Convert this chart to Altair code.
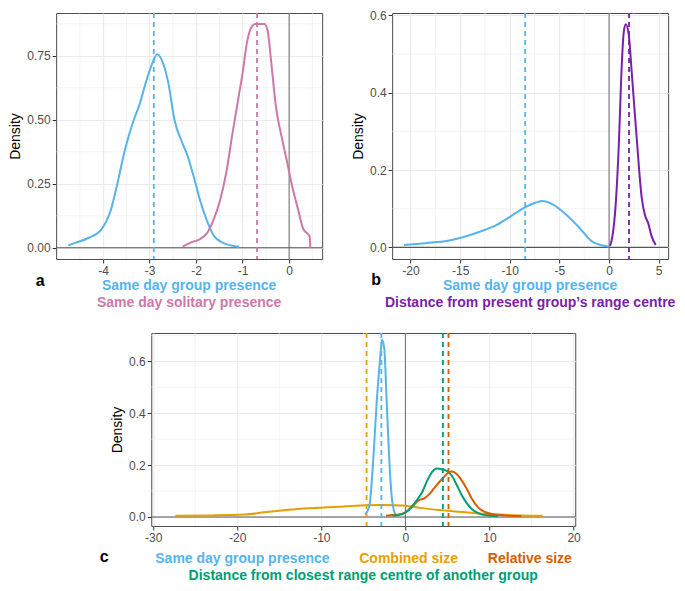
import altair as alt
import pandas as pd

FONT = "Liberation Sans"
BLUE = "#56B4E9"
PINK = "#CC79A7"
PURPLE = "#7A1FA8"
ORANGE = "#E69F00"
VERMIL = "#D55E00"
GREEN = "#009E73"
GRID = "#EBEBEB"

# ---------------- panel a ----------------
a_names = ["Same day group presence", "Same day solitary presence"]
a_colors = [BLUE, PINK]
a_blue_x = [-4.75, -4.60, -4.32, -4.05, -3.94, -3.84, -3.70, -3.53, -3.36, -3.22, -3.08, -2.94,
            -2.84, -2.74, -2.60, -2.46, -2.32, -2.18, -2.04, -1.91, -1.77, -1.63, -1.42, -1.08]
a_blue_y = [0.009, 0.019, 0.038, 0.069, 0.10, 0.144, 0.245, 0.383, 0.489, 0.558, 0.646, 0.721,
            0.756, 0.734, 0.646, 0.495, 0.42, 0.357, 0.27, 0.182, 0.107, 0.05, 0.019, 0.004]
a_pink_x = [-2.29, -2.11, -1.91, -1.77, -1.63, -1.49, -1.35, -1.22, -1.08, -1.01, -0.905, -0.80,
            -0.73, -0.53, -0.46, -0.39, -0.28, -0.145, -0.04, 0.06, 0.20, 0.30, 0.44, 0.456]
a_pink_y = [0.004, 0.021, 0.034, 0.056, 0.107, 0.182, 0.295, 0.445, 0.596, 0.671, 0.803, 0.865,
            0.874, 0.874, 0.847, 0.734, 0.546, 0.42, 0.332, 0.245, 0.144, 0.075, 0.044, 0.0]
a_means = [-2.91, -0.69]
a_xticks = [-4, -3, -2, -1, 0]
a_xminor = [-4.5, -3.5, -2.5, -1.5, -0.5, 0.5]
a_yticks = [0, 0.25, 0.5, 0.75]
a_yminor = [0.125, 0.375, 0.625, 0.875]

# ---------------- panel b ----------------
b_names = ["Same day group presence", "Distance from present group\u2019s range centre"]
b_colors = [BLUE, PURPLE]
b_blue_x = [-20.66, -18.52, -16.22, -14.91, -12.95, -11.31, -9.99, -8.52, -7.37, -6.72, -5.73,
            -4.42, -3.11, -1.79, -0.48, 0.0]
b_blue_y = [0.006, 0.011, 0.017, 0.025, 0.041, 0.058, 0.079, 0.103, 0.116, 0.120, 0.112,
            0.087, 0.054, 0.017, 0.004, 0.002]
b_purple_x = [0.1, 0.34, 0.67, 1.0, 1.23, 1.49, 1.69, 1.98, 2.31, 2.80, 3.29, 3.62, 3.95, 4.28, 4.70]
b_purple_y = [0.004, 0.029, 0.112, 0.277, 0.443, 0.559, 0.577, 0.550, 0.443, 0.277, 0.128, 0.083,
              0.062, 0.029, 0.006]
b_means = [-8.45, 2.01]
b_xticks = [-20, -15, -10, -5, 0, 5]
b_xminor = [-17.5, -12.5, -7.5, -2.5, 2.5]
b_yticks = [0, 0.2, 0.4, 0.6]
b_yminor = [0.1, 0.3, 0.5]

# ---------------- panel c ----------------
c_names = ["Combined size", "Same day group presence", "Relative size",
           "Distance from closest range centre of another group"]
c_colors = [ORANGE, BLUE, VERMIL, GREEN]
c_orange_x = [-27.37, -23.06, -19.14, -16.78, -14.43, -12.08, -9.73, -7.37, -4.63, -2.67, -0.35,
              2.0, 5.92, 9.84, 13.8, 16.3]
c_orange_y = [0.005, 0.006, 0.009, 0.018, 0.026, 0.033, 0.036, 0.040, 0.045, 0.046, 0.044,
              0.034, 0.021, 0.011, 0.006, 0.005]
c_blue_x = [-4.78, -4.27, -3.80, -3.41, -3.01, -2.78, -2.51, -2.23, -1.92, -1.61, -1.21]
c_blue_y = [0.009, 0.046, 0.234, 0.447, 0.61, 0.685, 0.648, 0.447, 0.222, 0.071, 0.009]
c_verm_x = [-2.31, -0.75, 0.04, 0.82, 1.61, 2.2, 2.78, 3.37, 3.96, 4.55, 5.14, 5.53, 6.12, 6.71,
            7.29, 7.88, 8.67, 9.45, 10.6, 12.2, 13.8]
c_verm_y = [0.005, 0.009, 0.019, 0.040, 0.065, 0.071, 0.086, 0.109, 0.132, 0.153, 0.172, 0.175,
            0.165, 0.14, 0.109, 0.071, 0.036, 0.019, 0.009, 0.005, 0.004]
c_green_x = [-1.53, -0.35, 0.43, 1.22, 2.0, 2.59, 3.18, 3.76, 4.35, 4.94, 5.53, 6.12, 6.71, 7.29,
             7.88, 8.67, 9.65, 11.0]
c_green_y = [0.005, 0.011, 0.028, 0.059, 0.096, 0.14, 0.174, 0.187, 0.184, 0.178, 0.159, 0.122,
             0.084, 0.053, 0.031, 0.015, 0.006, 0.003]
c_means = [-4.62, -2.86, 5.13, 4.46]
c_xticks = [-30, -20, -10, 0, 10, 20]
c_xminor = [-25, -15, -5, 5, 15]
c_yticks = [0, 0.2, 0.4, 0.6]
c_yminor = [0.1, 0.3, 0.5, 0.7]


def curves_df(names, xs_list, ys_list):
    frames = [pd.DataFrame({"s": n, "x": xs, "y": ys, "k": i})
              for i, (n, xs, ys) in enumerate(zip(names, xs_list, ys_list))]
    return pd.concat(frames, ignore_index=True)


def panel(names, colors, xs_list, ys_list, means, xdom, ydom, xticks, xminor, yticks, yminor,
          yfmt, w, h, letter, letter_pos, texts):
    xsc = alt.Scale(domain=xdom, nice=False, zero=False)
    ysc = alt.Scale(domain=ydom, nice=False, zero=False)
    xax = alt.Axis(values=xticks, title=None, format="d",
                   labelExpr="replace(datum.label, '\u2212', '-')")
    yax = alt.Axis(values=yticks, title="Density", format=yfmt)
    col = alt.Color("s:N", scale=alt.Scale(domain=names, range=colors), legend=None)

    def X(f):
        return alt.X(f, scale=xsc, axis=xax)

    def Y(f):
        return alt.Y(f, scale=ysc, axis=yax)

    layers = [
        alt.Chart(pd.DataFrame({"v": xminor})).mark_rule(color=GRID, strokeWidth=0.6).encode(x=X("v:Q")),
        alt.Chart(pd.DataFrame({"v": yminor})).mark_rule(color=GRID, strokeWidth=0.6).encode(y=Y("v:Q")),
        alt.Chart(pd.DataFrame({"v": [0]})).mark_rule(color="#777777", strokeWidth=1.1).encode(x=X("v:Q")),
        alt.Chart(pd.DataFrame({"v": [0]})).mark_rule(color="#555555", strokeWidth=1.1).encode(y=Y("v:Q")),
        alt.Chart(curves_df(names, xs_list, ys_list)).mark_line(
            strokeWidth=2, interpolate="monotone").encode(
            x=X("x:Q"), y=Y("y:Q"), color=col, detail="k:N"),
        alt.Chart(pd.DataFrame({"s": names, "m": means})).mark_rule(
            strokeWidth=1.8, strokeDash=[5, 4]).encode(x=X("m:Q"), color=col),
        alt.Chart(pd.DataFrame({"t": [letter]})).mark_text(
            font=FONT, fontSize=16, fontWeight="bold", color="black", align="center",
            baseline="middle").encode(
            x=alt.value(letter_pos[0]), y=alt.value(h + letter_pos[1]), text="t:N"),
    ]
    for (txt, color, fx, dy) in texts:
        layers.append(
            alt.Chart(pd.DataFrame({"t": [txt]})).mark_text(
                font=FONT, fontSize=14, fontWeight="bold", color=color, align="center",
                baseline="middle").encode(
                x=alt.value(w * fx), y=alt.value(h + dy), text="t:N"))
    return alt.layer(*layers).properties(width=w, height=h)


pa = panel(a_names, a_colors, [a_blue_x, a_pink_x], [a_blue_y, a_pink_y], a_means,
           [-5.01, 0.71], [-0.044, 0.917], a_xticks, a_xminor, a_yticks, a_yminor, ".2f",
           266, 246, "a", (-16, 22),
           [(a_names[0], BLUE, 0.5, 27), (a_names[1], PINK, 0.5, 44)])

pb = panel(b_names, b_colors, [b_blue_x, b_purple_x], [b_blue_y, b_purple_y], b_means,
           [-21.85, 5.95], [-0.03, 0.606], b_xticks, b_xminor, b_yticks, b_yminor, ".1f",
           276, 246, "b", (-16, 21),
           [(b_names[0], BLUE, 0.5, 27), (b_names[1], PURPLE, 0.5, 44)])

pc = panel(c_names, c_colors, [c_orange_x, c_blue_x, c_verm_x, c_green_x],
           [c_orange_y, c_blue_y, c_verm_y, c_green_y], c_means,
           [-30.23, 20.2], [-0.035, 0.71], c_xticks, c_xminor, c_yticks, c_yminor, ".1f",
           424, 193, "c", (-47, 31),
           [(c_names[1], BLUE, 0.215, 33), (c_names[0], ORANGE, 0.607, 33),
            (c_names[2], VERMIL, 0.893, 33), (c_names[3], GREEN, 0.5, 50)])

top = alt.hconcat(pa, pb, spacing=26).resolve_scale(color="independent")
chart = alt.vconcat(top, pc, spacing=20, center=True).resolve_scale(
    color="independent").properties(padding=0)
chart = chart.configure_view(stroke="#4D4D4D", strokeWidth=1).configure_axis(
    labelFont=FONT, labelFontSize=12, labelColor="#4D4D4D", labelPadding=2,
    tickColor="#333333", tickSize=4, tickWidth=1, domain=False,
    grid=True, gridColor=GRID, gridWidth=1.1,
    titleFont=FONT, titleFontSize=14, titleColor="black", titleFontWeight="normal",
    titlePadding=4,
)

chart.save("out.html", embed_options={"renderer": "svg", "actions": False})
